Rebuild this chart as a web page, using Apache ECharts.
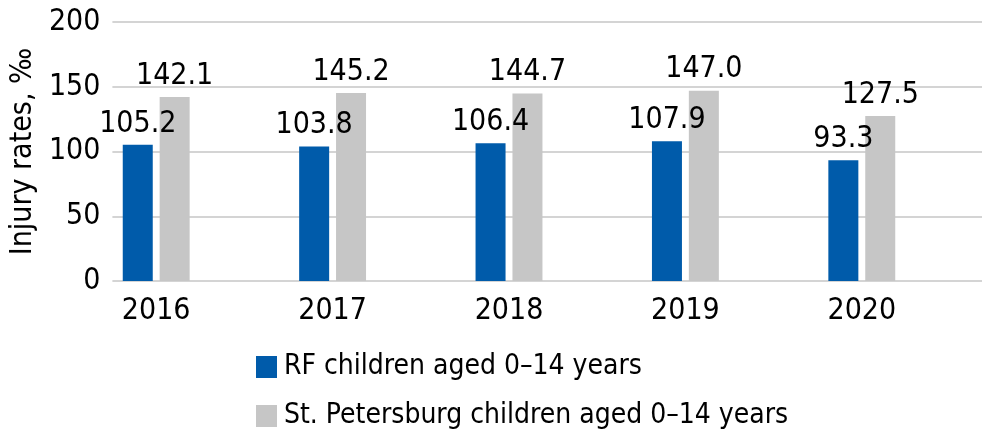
<!DOCTYPE html>
<html>
<head>
<meta charset="utf-8">
<script src="https://cdn.jsdelivr.net/npm/echarts@6/dist/echarts.min.js"></script>
<style>
html,body{margin:0;padding:0;background:#fff;}
#c{width:982px;height:435px;}
</style>
</head>
<body>
<div id="c"></div>
<script>
const categories = ['2016', '2017', '2018', '2019', '2020'];
const rfValues = [105.2, 103.8, 106.4, 107.9, 93.3];
const spbValues = [142.1, 145.2, 144.7, 147.0, 127.5];
const seriesNames = ['RF children aged 0–14 years', 'St. Petersburg children aged 0–14 years'];
const yName = 'Injury rates, ‰';

const FONT = "'DejaVu Sans Condensed', 'Roboto', sans-serif";
const FS = 30;
const chart = echarts.init(document.getElementById('c'));
const labelCfg = {
  show: true, position: 'top', distance: 6,
  fontFamily: FONT, fontSize: FS, color: '#000',
  formatter: p => p.value.toFixed(1)
};
const legendText = { fontFamily: FONT, fontSize: 28, color: '#000', padding: [0, 0, 0, 2] };
chart.setOption({
  animation: false,
  textStyle: { fontFamily: FONT },
  grid: [
    { left: 68, right: 32, top: 22, bottom: 154 },
    { left: 100, right: 0, top: 22, bottom: 154 }
  ],
  xAxis: [
    {
      gridIndex: 0, type: 'category', data: categories,
      axisLine: { show: false }, axisTick: { show: false },
      axisLabel: { fontFamily: FONT, fontSize: FS, color: '#000', margin: 15 }
    },
    { gridIndex: 1, type: 'category', data: categories, show: false }
  ],
  yAxis: [
    {
      gridIndex: 0, type: 'value', min: 0, max: 200, interval: 50, show: false,
      splitLine: { show: false }
    },
    {
      gridIndex: 1, type: 'value', min: 0, max: 200, interval: 50,
      axisLine: { show: false }, axisTick: { show: false },
      axisLabel: { fontFamily: FONT, fontSize: FS, color: '#000', margin: 12 },
      splitLine: { lineStyle: { color: '#d4d4d4', width: 2 } },
      name: yName, nameLocation: 'middle', nameGap: 64, nameRotate: 90,
      nameTextStyle: { fontFamily: FONT, fontSize: FS, color: '#000' }
    }
  ],
  legend: [
    {
      left: 251, top: 348, itemWidth: 21, itemHeight: 22, icon: 'rect',
      data: [seriesNames[0]], textStyle: legendText
    },
    {
      left: 251, top: 397, itemWidth: 21, itemHeight: 22, icon: 'rect',
      data: [seriesNames[1]], textStyle: legendText
    }
  ],
  series: [
    {
      name: seriesNames[0], type: 'bar', xAxisIndex: 0, yAxisIndex: 0,
      data: rfValues, barWidth: 30, barGap: '23%',
      itemStyle: { color: '#005baa' }, label: labelCfg
    },
    {
      name: seriesNames[1], type: 'bar', xAxisIndex: 0, yAxisIndex: 0,
      data: spbValues, barWidth: 30, barGap: '23%',
      itemStyle: { color: '#c6c6c6' }, label: labelCfg
    }
  ]
});
</script>
</body>
</html>
